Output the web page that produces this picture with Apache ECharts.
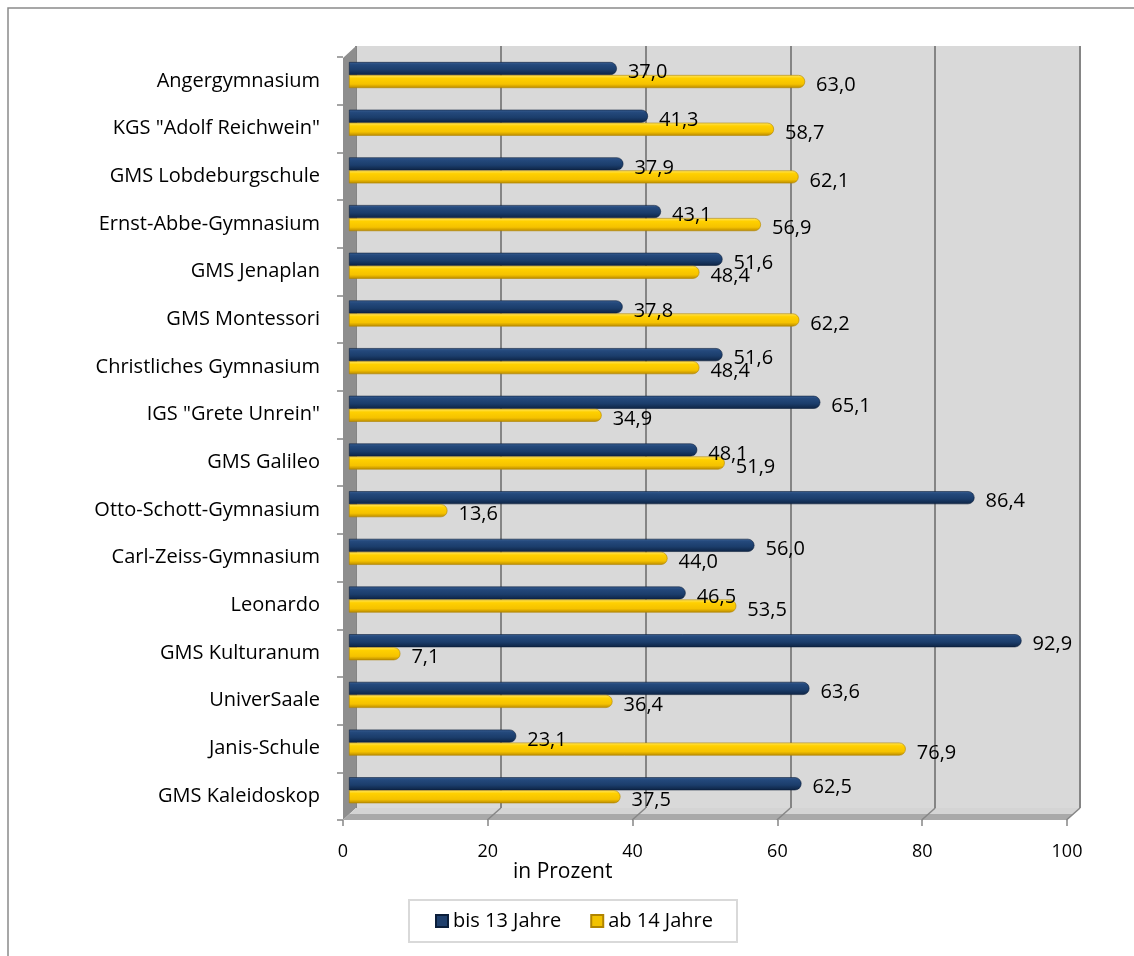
<!DOCTYPE html>
<html><head><meta charset="utf-8">
<script src="https://cdn.jsdelivr.net/npm/echarts@6/dist/echarts.min.js"></script>
<style>html,body{margin:0;padding:0;background:#fff}#c{width:1134px;height:956px}</style>
</head><body><div id="c"></div>
<script>
const categories = ['Angergymnasium','KGS "Adolf Reichwein"','GMS Lobdeburgschule','Ernst-Abbe-Gymnasium','GMS Jenaplan','GMS Montessori','Christliches Gymnasium','IGS "Grete Unrein"','GMS Galileo','Otto-Schott-Gymnasium','Carl-Zeiss-Gymnasium','Leonardo','GMS Kulturanum','UniverSaale','Janis-Schule','GMS Kaleidoskop'];
const bis13 = [37.0,41.3,37.9,43.1,51.6,37.8,51.6,65.1,48.1,86.4,56.0,46.5,92.9,63.6,23.1,62.5];
const ab14  = [63.0,58.7,62.1,56.9,48.4,62.2,48.4,34.9,51.9,13.6,44.0,53.5,7.1,36.4,76.9,37.5];
const seriesNames = ['bis 13 Jahre','ab 14 Jahre'];
const xTicks = [0,20,40,60,80,100];
const axisTitle = 'in Prozent';

const FONT = '"Open Sans", sans-serif';
const chart = echarts.init(document.getElementById('c'));
const fmt = v => v.toFixed(1).replace('.', ',');

// decoration (3D walls / floor)
const wallL = 356, wallR = 1080, wallT = 46, wallB = 808, frontL = 343, frontB = 820, step = (wallR - wallL) / 5;
const deco = [
  {type:'rect', shape:{x:8,y:8,width:1200,height:1000}, style:{fill:'none',stroke:'#8a8a8a',lineWidth:1.5}, z:1},
  {type:'polygon', shape:{points:[[frontL,wallT+12],[wallL,wallT],[wallL,wallB],[frontL,frontB]]}, style:{fill:'#8e8e8e'}, z:1},
  {type:'polygon', shape:{points:[[wallL,wallB],[wallR,wallB],[wallR-13,frontB],[frontL,frontB]]},
    style:{fill:new echarts.graphic.LinearGradient(0,0,0,1,[{offset:0,color:'#d4d4d4'},{offset:0.5,color:'#d4d4d4'},{offset:0.5,color:'#a9a9a9'},{offset:1,color:'#a9a9a9'}])}, z:1}
];
for (let k = 1; k <= 5; k++) {
  deco.push({type:'line', shape:{x1:wallL+step*k, y1:wallB, x2:frontL+step*k-0.5, y2:frontB}, style:{stroke:'#868686',lineWidth:1.5}, z:1});
}

function grad(stops){ return new echarts.graphic.LinearGradient(0,0,0,1,stops.map((c,i)=>({offset:c[0],color:c[1]}))); }
const blueGrad = grad([[0,'#3a5f92'],[0.2,'#24497c'],[0.6,'#1b3d6b'],[1,'#0d2343']]);
const yellowGrad = grad([[0,'#ffe766'],[0.25,'#ffd000'],[0.7,'#f5c200'],[1,'#b88900']]);

const option = {
  animation:false,
  textStyle:{fontFamily:FONT},
  title:{text:axisTitle, left:508, top:857, textStyle:{fontFamily:FONT,fontSize:21,fontWeight:'normal',color:'#000'}},
  legend:{
    left:409, top:900, padding:[11,24,11,26], itemGap:29, itemWidth:12, itemHeight:12, icon:'rect',
    borderColor:'#d9d9d9', borderWidth:2,
    textStyle:{fontFamily:FONT,fontSize:20,color:'#000'},
    data:[{name:seriesNames[0], itemStyle:{color:'#1f3f6c'}},{name:seriesNames[1], itemStyle:{color:'#f2c200'}}]
  },
  graphic:deco,
  grid:[
    {left:wallL, right:1134-wallR, top:wallT, bottom:956-wallB, show:true, backgroundColor:'#d9d9d9', borderWidth:0, z:0},
    {left:349, right:61, top:51.2, bottom:141.9},
    {left:frontL, right:67, top:57, bottom:136}
  ],
  xAxis:[
    {gridIndex:0, type:'value', min:0, max:100, interval:20, axisLabel:{show:false}, axisTick:{show:false}, axisLine:{show:false},
      splitLine:{show:true, lineStyle:{color:'#858585', width:2}}},
    {gridIndex:1, type:'value', min:0, max:100, interval:20, show:false, splitLine:{show:false}},
    {gridIndex:2, type:'value', min:0, max:100, interval:20, splitLine:{show:false}, axisLine:{show:false},
      axisTick:{show:true, length:6, lineStyle:{color:'#868686', width:1.5}},
      axisLabel:{fontFamily:FONT, fontSize:18, color:'#000', margin:23, formatter:v=>xTicks.includes(v)?String(v):''}}
  ],
  yAxis:[
    {gridIndex:0, type:'value', show:false},
    {gridIndex:1, type:'category', data:categories, inverse:true, show:false},
    {gridIndex:2, type:'category', data:categories, inverse:true, axisLine:{show:false},
      axisTick:{show:true, length:6, lineStyle:{color:'#868686', width:1.5}},
      axisLabel:{fontFamily:FONT, fontSize:20, color:'#000', margin:23}}
  ],
  series:[
    {name:seriesNames[0], type:'bar', xAxisIndex:1, yAxisIndex:1, data:bis13, barWidth:13, barGap:'0%', z:3,
      itemStyle:{color:blueGrad, borderRadius:[0,7,7,0], borderColor:'#0b1e3a', borderWidth:0.6},
      label:{show:true, position:'right', distance:11, offset:[0,4], formatter:p=>fmt(p.value), fontFamily:FONT, fontSize:20, color:'#000'}},
    {name:seriesNames[1], type:'bar', xAxisIndex:1, yAxisIndex:1, data:ab14, barWidth:13, barGap:'0%', z:3,
      itemStyle:{color:yellowGrad, borderRadius:[0,7,7,0], borderColor:'#b08400', borderWidth:0.6},
      label:{show:true, position:'right', distance:11, offset:[0,4], formatter:p=>fmt(p.value), fontFamily:FONT, fontSize:20, color:'#000'}}
  ]
};
chart.setOption(option);
</script></body></html>
